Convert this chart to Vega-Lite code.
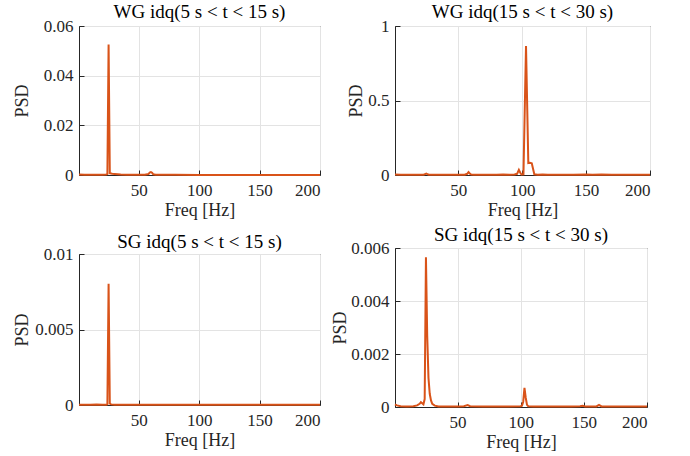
{
  "$schema": "https://vega.github.io/schema/vega-lite/v6.json",
  "padding": {"left": 12, "top": 2, "right": 0, "bottom": 0},
  "background": "white",
  "datasets": {
    "wg1": [
      {"f": 0.5, "psd": 0.0002}, {"f": 5, "psd": 0.0001}, {"f": 10, "psd": 0.0001}, {"f": 15, "psd": 0.0001},
      {"f": 20, "psd": 0.0001}, {"f": 23, "psd": 0.0002}, {"f": 24, "psd": 0.0004}, {"f": 25, "psd": 0.0525},
      {"f": 26, "psd": 0.0007}, {"f": 27, "psd": 0.0006}, {"f": 28, "psd": 0.0005}, {"f": 30, "psd": 0.0004},
      {"f": 35, "psd": 0.0002}, {"f": 40, "psd": 0.0001}, {"f": 45, "psd": 0.0001}, {"f": 50, "psd": 0.0001},
      {"f": 55, "psd": 0.0001}, {"f": 58, "psd": 0.0004}, {"f": 59, "psd": 0.001}, {"f": 60, "psd": 0.0012},
      {"f": 61, "psd": 0.0009}, {"f": 62, "psd": 0.0003}, {"f": 64, "psd": 0.0001}, {"f": 70, "psd": 0.0001},
      {"f": 80, "psd": 0.0001}, {"f": 100, "psd": 0.00005}, {"f": 120, "psd": 0.00005}, {"f": 150, "psd": 0.00005},
      {"f": 200, "psd": 0.00005}
    ],
    "wg2": [
      {"f": 0.5, "psd": 0.003}, {"f": 5, "psd": 0.001}, {"f": 10, "psd": 0.001}, {"f": 20, "psd": 0.001},
      {"f": 23, "psd": 0.002}, {"f": 24, "psd": 0.006}, {"f": 25, "psd": 0.01}, {"f": 26, "psd": 0.005},
      {"f": 27, "psd": 0.002}, {"f": 30, "psd": 0.001}, {"f": 40, "psd": 0.001}, {"f": 50, "psd": 0.001},
      {"f": 55, "psd": 0.002}, {"f": 57, "psd": 0.008}, {"f": 58, "psd": 0.02}, {"f": 59, "psd": 0.01},
      {"f": 60, "psd": 0.003}, {"f": 62, "psd": 0.001}, {"f": 70, "psd": 0.001}, {"f": 80, "psd": 0.002},
      {"f": 85, "psd": 0.003}, {"f": 90, "psd": 0.002}, {"f": 94, "psd": 0.003}, {"f": 96, "psd": 0.008},
      {"f": 97.4, "psd": 0.035}, {"f": 98.5, "psd": 0.015}, {"f": 99.5, "psd": 0.003}, {"f": 101, "psd": 0.004},
      {"f": 103, "psd": 0.866}, {"f": 104.8, "psd": 0.08}, {"f": 106, "psd": 0.082}, {"f": 107.5, "psd": 0.078},
      {"f": 109.5, "psd": 0.005}, {"f": 112, "psd": 0.002}, {"f": 116, "psd": 0.004}, {"f": 120, "psd": 0.002},
      {"f": 130, "psd": 0.002}, {"f": 140, "psd": 0.001}, {"f": 150, "psd": 0.004}, {"f": 155, "psd": 0.001},
      {"f": 162, "psd": 0.003}, {"f": 170, "psd": 0.001}, {"f": 200, "psd": 0.001}
    ],
    "sg1": [
      {"f": 0.5, "psd": 0.00001}, {"f": 10, "psd": 0.00001}, {"f": 15, "psd": 0.00003}, {"f": 20, "psd": 0.00001},
      {"f": 23, "psd": 0.00002}, {"f": 24, "psd": 0.00005}, {"f": 25, "psd": 0.00803}, {"f": 26, "psd": 0.0001},
      {"f": 27, "psd": 0.00004}, {"f": 30, "psd": 0.00002}, {"f": 40, "psd": 0.00001}, {"f": 60, "psd": 0.00001},
      {"f": 100, "psd": 0.00001}, {"f": 150, "psd": 0.00001}, {"f": 200, "psd": 0.00001}
    ],
    "sg2": [
      {"f": 0.5, "psd": 0.0001}, {"f": 2, "psd": 0.00006}, {"f": 5, "psd": 0.00003}, {"f": 10, "psd": 0.00002},
      {"f": 15, "psd": 0.00003}, {"f": 18, "psd": 0.00006}, {"f": 20, "psd": 0.00012}, {"f": 21, "psd": 0.00018},
      {"f": 22, "psd": 0.00014}, {"f": 23, "psd": 0.0001}, {"f": 24, "psd": 0.0003}, {"f": 25, "psd": 0.00565},
      {"f": 26, "psd": 0.0027}, {"f": 27, "psd": 0.0011}, {"f": 28, "psd": 0.0005}, {"f": 29, "psd": 0.00025},
      {"f": 30, "psd": 0.00012}, {"f": 32, "psd": 0.00005}, {"f": 35, "psd": 0.00002}, {"f": 40, "psd": 0.00002},
      {"f": 50, "psd": 0.00002}, {"f": 55, "psd": 0.00003}, {"f": 58, "psd": 0.00007}, {"f": 60, "psd": 0.00003},
      {"f": 70, "psd": 0.00002}, {"f": 80, "psd": 0.00002}, {"f": 90, "psd": 0.00002}, {"f": 100, "psd": 0.00003},
      {"f": 101, "psd": 0.00005}, {"f": 102, "psd": 0.0002}, {"f": 103, "psd": 0.00072}, {"f": 104, "psd": 0.00035},
      {"f": 105, "psd": 0.00008}, {"f": 106, "psd": 0.00003}, {"f": 110, "psd": 0.00002}, {"f": 120, "psd": 0.00002},
      {"f": 140, "psd": 0.00002}, {"f": 147, "psd": 0.00003}, {"f": 149, "psd": 0.00005}, {"f": 151, "psd": 0.00002},
      {"f": 160, "psd": 0.00002}, {"f": 162, "psd": 0.00008}, {"f": 164, "psd": 0.00002}, {"f": 180, "psd": 0.00002},
      {"f": 200, "psd": 0.00002}
    ]
  },
  "config": {
    "font": "Liberation Serif",
    "view": {"stroke": "#262626", "strokeWidth": 1},
    "axis": {
      "labelFont": "Liberation Serif", "titleFont": "Liberation Serif",
      "labelFontSize": 17, "titleFontSize": 18, "titleFontWeight": "normal",
      "labelColor": "#262626", "titleColor": "#262626",
      "domainColor": "#262626", "tickColor": "#262626", "tickSize": -5,
      "gridColor": "#e3e3e3", "gridWidth": 1
    },
    "axisX": {"labelPadding": 12, "titlePadding": 3},
    "axisY": {"labelPadding": 11, "titlePadding": 12},
    "title": {"font": "Liberation Serif", "fontSize": 19, "fontWeight": "normal", "color": "#000000", "baseline": "alphabetic", "offset": -5},
    "line": {"color": "#D95319", "strokeWidth": 2}
  },
  "spacing": 6,
  "hconcat": [
    {
      "bounds": "flush",
      "spacing": 79,
      "vconcat": [
        {
          "title": "WG idq(5 s < t < 15 s)",
          "width": 241, "height": 149,
          "data": {"name": "wg1"},
          "mark": {"type": "line"},
          "encoding": {
            "x": {"field": "f", "type": "quantitative", "title": "Freq [Hz]", "scale": {"domain": [0.5, 200], "nice": false}, "axis": {"values": [50, 100, 150, 200]}},
            "y": {"field": "psd", "type": "quantitative", "title": "PSD", "scale": {"domain": [0, 0.06], "nice": false}, "axis": {"values": [0, 0.02, 0.04, 0.06], "format": "~g"}}
          }
        },
        {
          "title": {"text": "SG idq(5 s < t < 15 s)", "offset": -7},
          "width": 241, "height": 151,
          "data": {"name": "sg1"},
          "mark": {"type": "line"},
          "encoding": {
            "x": {"field": "f", "type": "quantitative", "title": "Freq [Hz]", "scale": {"domain": [0.5, 200], "nice": false}, "axis": {"values": [50, 100, 150, 200]}},
            "y": {"field": "psd", "type": "quantitative", "title": "PSD", "scale": {"domain": [0, 0.01], "nice": false}, "axis": {"values": [0, 0.005, 0.01], "format": "~g", "titlePadding": 3}}
          }
        }
      ]
    },
    {
      "bounds": "flush",
      "spacing": 73,
      "vconcat": [
        {
          "title": "WG idq(15 s < t < 30 s)",
          "width": 255, "height": 149,
          "data": {"name": "wg2"},
          "mark": {"type": "line"},
          "encoding": {
            "x": {"field": "f", "type": "quantitative", "title": "Freq [Hz]", "scale": {"domain": [0.5, 200], "nice": false}, "axis": {"values": [50, 100, 150, 200]}},
            "y": {"field": "psd", "type": "quantitative", "title": "PSD", "scale": {"domain": [0, 1], "nice": false}, "axis": {"values": [0, 0.5, 1], "format": "~g", "titlePadding": 2}}
          }
        },
        {
          "title": {"text": "SG idq(15 s < t < 30 s)", "offset": -6},
          "width": 252, "height": 159,
          "data": {"name": "sg2"},
          "mark": {"type": "line"},
          "encoding": {
            "x": {"field": "f", "type": "quantitative", "title": "Freq [Hz]", "scale": {"domain": [0.5, 200], "nice": false}, "axis": {"values": [50, 100, 150, 200]}},
            "y": {"field": "psd", "type": "quantitative", "title": "PSD", "scale": {"domain": [0, 0.006], "nice": false}, "axis": {"values": [0, 0.002, 0.004, 0.006], "format": "~g", "titlePadding": 1}}
          }
        }
      ]
    }
  ]
}
